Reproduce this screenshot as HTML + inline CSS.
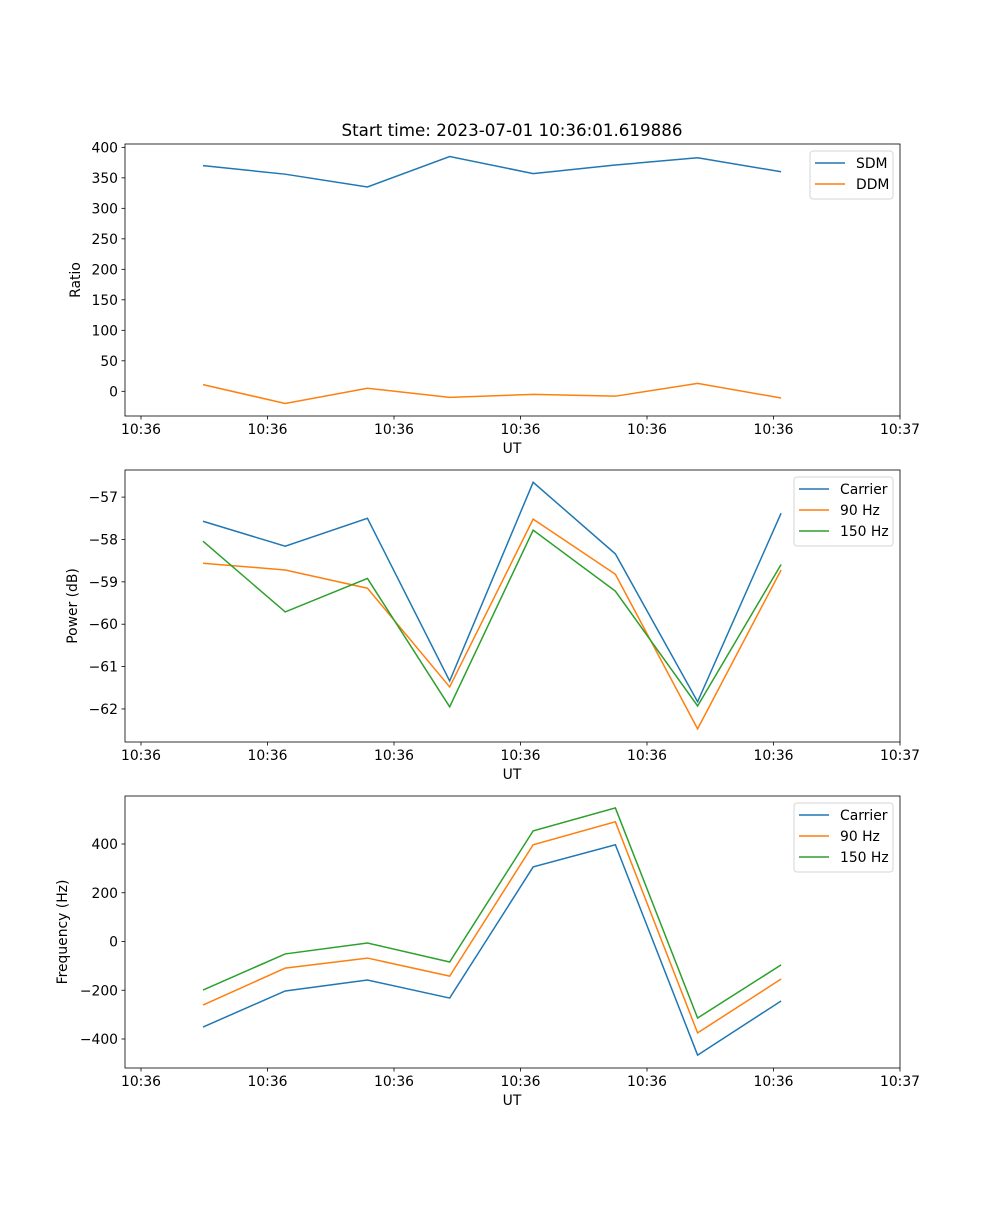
<!DOCTYPE html>
<html><head><meta charset="utf-8"><style>
body{margin:0;background:#fff;}
svg text{font-family:"DejaVu Sans","Liberation Sans",sans-serif;font-size:13.9px;fill:#000;}
</style></head><body>
<svg id="fig" width="1000" height="1200" xmlns="http://www.w3.org/2000/svg">
<rect width="1000" height="1200" fill="#fff"/>
<text x="512" y="136" text-anchor="middle" style="font-size:16.7px">Start time: 2023-07-01 10:36:01.619886</text>
</svg>
<script>
const times = [0.49, 1.14, 1.79, 2.44, 3.10, 3.75, 4.40, 5.06];
const xTicks = [0, 1, 2, 3, 4, 5, 6];
const xTickLabels = ['10:36','10:36','10:36','10:36','10:36','10:36','10:37'];
const sdm = [370, 356, 335, 385, 357, 371, 383, 360];
const ddm = [11, -20, 5, -10, -5, -8, 13, -11];
const powCarrier = [-57.57, -58.16, -57.50, -61.34, -56.65, -58.34, -61.83, -57.38];
const pow90 = [-58.56, -58.72, -59.15, -61.48, -57.52, -58.82, -62.47, -58.72];
const pow150 = [-58.04, -59.71, -58.92, -61.95, -57.78, -59.22, -61.93, -58.59];
const freqCarrier = [-351, -203, -158, -232, 306, 397, -466, -244];
const freq90 = [-261, -109, -68, -142, 397, 491, -375, -154];
const freq150 = [-199, -51, -6, -84, 454, 548, -314, -96];
const yTicks1 = [0,50,100,150,200,250,300,350,400];
const yTicks2 = [-62,-61,-60,-59,-58,-57];
const yTicks3 = [-400,-200,0,200,400];

const NS='http://www.w3.org/2000/svg';
const svg=document.getElementById('fig');
const C=['#1f77b4','#ff7f0e','#2ca02c'];
function mk(t,a,parent){const e=document.createElementNS(NS,t);for(const k in a)e.setAttribute(k,a[k]);(parent||svg).appendChild(e);return e;}

const X0=125,X1=900;
const xScale=t=>141+t*126.5;

function panel(idx,top,bot,ymin,ymax,yTicks,ylabel,series,names,legend){
  const g=mk('g',{});
  
  
  const ys=v=>bot-(v-ymin)/(ymax-ymin)*(bot-top);
  series.forEach((s,i)=>{
    const p=mk('polyline',{points:s.map((v,j)=>xScale(times[j])+','+ys(v)).join(' '),fill:'none',stroke:C[i],'stroke-width':1.5},g);
    
    
  });
  const fr=mk('rect',{x:X0,y:top,width:X1-X0,height:bot-top,fill:'none',stroke:'#000','stroke-width':0.8},g);
  
  
  xTicks.forEach((t,i)=>{
    const x=xScale(t);
    mk('line',{x1:x,x2:x,y1:bot,y2:bot+3.5,stroke:'#000','stroke-width':0.8},g);
    const tx=mk('text',{x:x,y:bot+18,'text-anchor':'middle'},g);
    
    
    tx.textContent=xTickLabels[i];
  });
  yTicks.forEach(v=>{
    const y=ys(v);
    mk('line',{x1:X0-3.5,x2:X0,y1:y,y2:y,stroke:'#000','stroke-width':0.8},g);
    const tx=mk('text',{x:X0-7,y:y+5,'text-anchor':'end'},g);
    
    
    tx.textContent=v<0?'\u2212'+Math.abs(v):String(v);
  });
  const xl=mk('text',{x:512,y:bot+37,'text-anchor':'middle'},g);
  
  
  xl.textContent='UT';
  const ly=(top+bot)/2;
  const yl=mk('text',{x:0,y:0,'text-anchor':'middle',transform:'translate('+legend.yx+','+ly+') rotate(-90)'},g);
  
  
  yl.textContent=ylabel;
  const lg=mk('g',{},g);
  
  
  mk('rect',{x:legend.x,y:top+7,width:893-legend.x,height:names.length*21+6,rx:3,fill:'#fff',stroke:'#ccc','stroke-width':1,opacity:0.8},lg);
  names.forEach((n,i)=>{
    const y=top+19+i*21;
    mk('line',{x1:legend.x+5,x2:legend.x+35,y1:y,y2:y,stroke:C[i],'stroke-width':1.5},lg);
    const t=mk('text',{x:legend.x+46,y:y+5},lg);
    
    
    t.textContent=n;
  });
}
panel(1,144,416,-40.5,405.5,yTicks1,'Ratio',[sdm,ddm],['SDM','DDM'],{x:810,yx:80});
panel(2,470,742,-62.78,-56.36,yTicks2,'Power (dB)',[powCarrier,pow90,pow150],['Carrier','90 Hz','150 Hz'],{x:794,yx:77});
panel(3,796,1068,-519,597,yTicks3,'Frequency (Hz)',[freqCarrier,freq90,freq150],['Carrier','90 Hz','150 Hz'],{x:794,yx:67});
</script>
</body></html>
